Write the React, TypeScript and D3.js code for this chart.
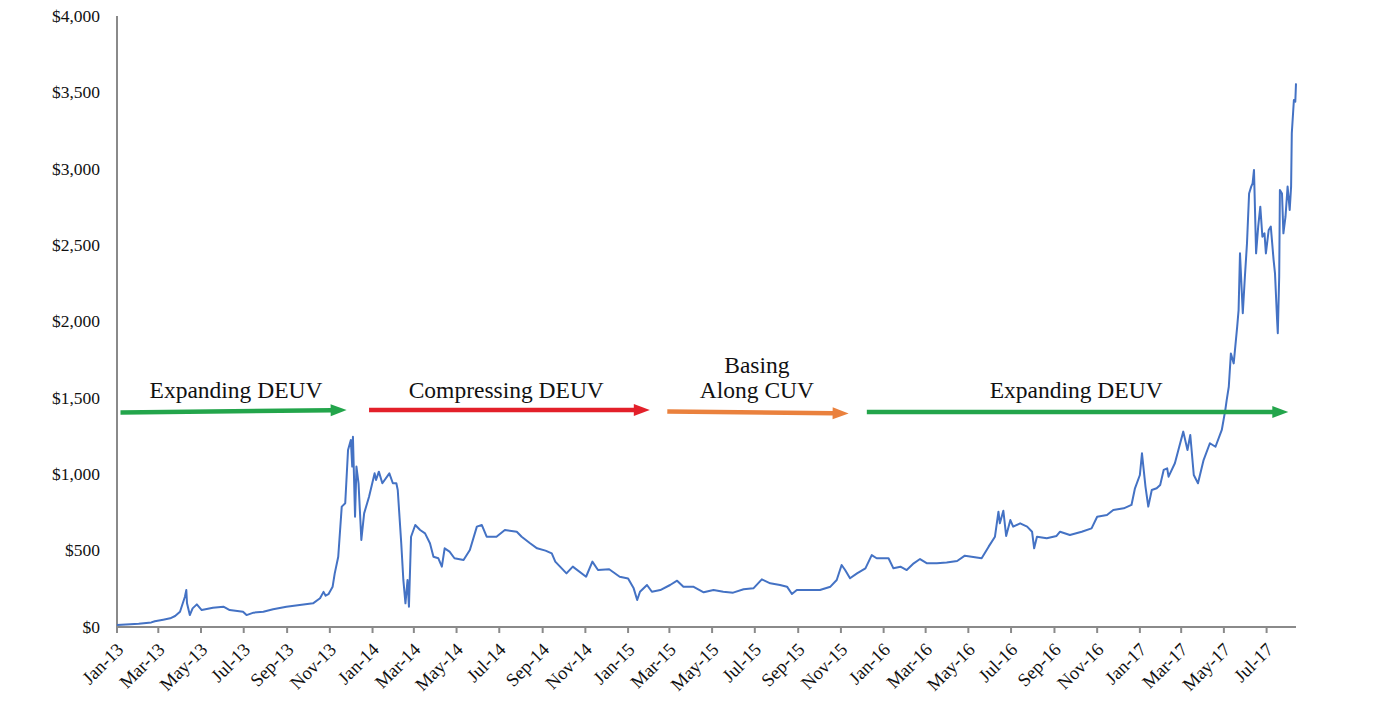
import * as d3 from 'd3';

// price readings (USD)
const priceDates = [
	'2013-01-01', '2013-01-20', '2013-02-01', '2013-02-19', '2013-02-24', '2013-03-08', '2013-03-18', '2013-03-25',
	'2013-04-01', '2013-04-08', '2013-04-10', '2013-04-11', '2013-04-15', '2013-04-19', '2013-04-25', '2013-05-02',
	'2013-05-18', '2013-06-02', '2013-06-11', '2013-06-30', '2013-07-05', '2013-07-15', '2013-07-29', '2013-08-12',
	'2013-08-31', '2013-09-19', '2013-10-08', '2013-10-18', '2013-10-23', '2013-10-26', '2013-10-30', '2013-11-05',
	'2013-11-08', '2013-11-13', '2013-11-18', '2013-11-23', '2013-11-27', '2013-12-01', '2013-12-03', '2013-12-04',
	'2013-12-07', '2013-12-09', '2013-12-12', '2013-12-16', '2013-12-20', '2013-12-27', '2014-01-04', '2014-01-06',
	'2014-01-10', '2014-01-15', '2014-01-25', '2014-01-30', '2014-02-04', '2014-02-06', '2014-02-11', '2014-02-14',
	'2014-02-17', '2014-02-20', '2014-02-22', '2014-02-25', '2014-03-03', '2014-03-10', '2014-03-17', '2014-03-24',
	'2014-03-29', '2014-04-05', '2014-04-10', '2014-04-14', '2014-04-21', '2014-04-28', '2014-05-11', '2014-05-20',
	'2014-05-30', '2014-06-06', '2014-06-13', '2014-06-27', '2014-07-09', '2014-07-26', '2014-08-02', '2014-08-14',
	'2014-08-24', '2014-09-05', '2014-09-14', '2014-09-19', '2014-10-05', '2014-10-14', '2014-11-02', '2014-11-11',
	'2014-11-19', '2014-12-05', '2014-12-20', '2015-01-01', '2015-01-09', '2015-01-14', '2015-01-18', '2015-01-28',
	'2015-02-04', '2015-02-16', '2015-03-02', '2015-03-12', '2015-03-21', '2015-04-04', '2015-04-19', '2015-05-03',
	'2015-05-17', '2015-05-31', '2015-06-15', '2015-06-29', '2015-07-11', '2015-07-23', '2015-08-06', '2015-08-16',
	'2015-08-23', '2015-08-30', '2015-09-13', '2015-10-02', '2015-10-17', '2015-10-26', '2015-11-02', '2015-11-07',
	'2015-11-14', '2015-11-24', '2015-12-06', '2015-12-15', '2015-12-22', '2016-01-08', '2016-01-15', '2016-01-25',
	'2016-02-03', '2016-02-13', '2016-02-22', '2016-03-03', '2016-03-17', '2016-03-31', '2016-04-15', '2016-04-26',
	'2016-05-20', '2016-05-30', '2016-06-08', '2016-06-13', '2016-06-15', '2016-06-20', '2016-06-24', '2016-06-30',
	'2016-07-04', '2016-07-14', '2016-07-24', '2016-07-31', '2016-08-03', '2016-08-07', '2016-08-21', '2016-09-04',
	'2016-09-09', '2016-09-23', '2016-10-10', '2016-10-24', '2016-11-01', '2016-11-15', '2016-11-24', '2016-12-09',
	'2016-12-20', '2016-12-25', '2017-01-01', '2017-01-04', '2017-01-09', '2017-01-13', '2017-01-18', '2017-01-25',
	'2017-01-30', '2017-02-04', '2017-02-09', '2017-02-11', '2017-02-20', '2017-02-25', '2017-03-04', '2017-03-10',
	'2017-03-14', '2017-03-19', '2017-03-25', '2017-04-02', '2017-04-11', '2017-04-19', '2017-04-28', '2017-05-03',
	'2017-05-05', '2017-05-08', '2017-05-11', '2017-05-15', '2017-05-20', '2017-05-22', '2017-05-24', '2017-05-28',
	'2017-05-31', '2017-06-03', '2017-06-06', '2017-06-09', '2017-06-11', '2017-06-13', '2017-06-16', '2017-06-19',
	'2017-06-22', '2017-06-25', '2017-06-28', '2017-06-30', '2017-07-04', '2017-07-07', '2017-07-11', '2017-07-13',
	'2017-07-16', '2017-07-17', '2017-07-19', '2017-07-20', '2017-07-23', '2017-07-25', '2017-07-28', '2017-07-31',
	'2017-08-03', '2017-08-05', '2017-08-06', '2017-08-09', '2017-08-11', '2017-08-12',
];

const priceValues = [
	13, 18, 21, 30, 38, 48, 57, 72,
	100, 198, 242, 155, 78, 122, 148, 111,
	126, 133, 111, 100, 78, 94, 100, 116,
	133, 144, 155, 188, 230, 205, 215, 264,
	351, 460, 788, 810, 1159, 1224, 1050, 1246,
	722, 1050, 941, 570, 744, 853, 1006, 962,
	1017, 941, 1006, 941, 941, 897, 548, 308,
	155, 308, 133, 591, 668, 635, 613, 548,
	460, 450, 395, 515, 493, 450, 439, 504,
	657, 668, 591, 591, 635, 624, 591, 548,
	515, 500, 482, 428, 351, 395, 329, 428,
	373, 378, 329, 318, 253, 177, 231, 275,
	231, 242, 275, 303, 264, 264, 227, 242,
	231, 225, 247, 253, 312, 286, 275, 264,
	216, 242, 242, 242, 264, 308, 406, 373,
	319, 351, 384, 471, 450, 450, 384, 395,
	373, 417, 445, 417, 417, 423, 432, 467,
	450, 526, 591, 755, 679, 761, 596, 700,
	657, 679, 657, 624, 515, 591, 581, 596,
	624, 602, 624, 646, 722, 733, 766, 777,
	799, 908, 995, 1137, 919, 788, 897, 908,
	930, 1028, 1039, 984, 1072, 1159, 1279, 1159,
	1257, 995, 941, 1093, 1203, 1180, 1290, 1420,
	1486, 1573, 1791, 1726, 1966, 2075, 2446, 2054,
	2293, 2512, 2838, 2883, 2905, 2992, 2446, 2621,
	2752, 2555, 2577, 2446, 2599, 2621, 2403, 2315,
	2010, 1923, 2293, 2861, 2838, 2577, 2686, 2883,
	2730, 2883, 3232, 3450, 3439, 3559,
];

const yTicks = [0, 500, 1000, 1500, 2000, 2500, 3000, 3500, 4000];

// phase arrows drawn across the chart
const phaseStarts = ['2013-01-06', '2013-12-27', '2015-02-26', '2015-12-08'];
const phaseEnds = ['2013-11-25', '2015-02-01', '2015-11-12', '2017-08-01'];
const phaseLevelsStart = [1405, 1420, 1410, 1407];
const phaseLevelsEnd = [1420, 1420, 1398, 1407];
const phaseColors = ['#23a54b', '#e3202a', '#ea813d', '#23a54b'];
const phaseLabels = [['Expanding DEUV'], ['Compressing DEUV'], ['Basing', 'Along CUV'], ['Expanding DEUV']];
const phaseLabelDates = ['2013-06-20', '2014-07-11', '2015-07-04', '2016-10-02'];

const width = 1400;
const height = 710;
const margin = {top: 16, right: 104, bottom: 83, left: 117};
const font = '"Liberation Serif", "Times New Roman", serif';

const parse = d3.timeParse('%Y-%m-%d');

export default function App() {
	const data = priceDates.map((d, i) => ({date: parse(d) as Date, value: priceValues[i]}));

	const x = d3.scaleTime()
		.domain([parse('2013-01-01') as Date, parse('2017-08-12') as Date])
		.range([margin.left, width - margin.right]);

	const y = d3.scaleLinear()
		.domain([0, 4000])
		.range([height - margin.bottom, margin.top]);

	const line = d3.line<{date: Date, value: number}>()
		.x(d => x(d.date))
		.y(d => y(d.value));

	const xTicks = x.ticks(d3.timeMonth.every(2) as d3.TimeInterval);
	const fmtX = d3.timeFormat('%b-%y');
	const fmtY = d3.format('$,');
	const y0 = y(0);

	return (
		<svg width={width} height={height} style={{position: 'absolute', left: 0, top: 0, background: '#fff'}}
			fontFamily={font}>
			{/* y axis */}
			<line x1={margin.left} x2={margin.left} y1={y(4000)} y2={y0} stroke="#8a8a8a" strokeWidth={2} />
			{yTicks.map(t => (
				<text key={t} x={100} y={y(t)} dy="0.33em" textAnchor="end" fontSize={17.5} fill="#111">
					{fmtY(t)}
				</text>
			))}

			{/* x axis */}
			<line x1={margin.left - 1} x2={width - margin.right} y1={y0} y2={y0} stroke="#8a8a8a" strokeWidth={2} />
			{xTicks.map(t => (
				<g key={+t}>
					<line x1={x(t)} x2={x(t)} y1={y0} y2={y0 + 6} stroke="#8a8a8a" strokeWidth={2} />
					<text transform={`translate(${x(t) + 3},${y0 + 19}) rotate(-45)`} dy="0.35em"
						textAnchor="end" fontSize={18.5} fill="#111">
						{fmtX(t)}
					</text>
				</g>
			))}

			{/* price line */}
			<path d={line(data) ?? ''} fill="none" stroke="#4472c4" strokeWidth={2} strokeLinejoin="round" />

			{/* phase arrows */}
			{phaseStarts.map((s, i) => {
				const x1 = x(parse(s) as Date);
				const y1 = y(phaseLevelsStart[i]);
				const x2 = x(parse(phaseEnds[i]) as Date);
				const y2 = y(phaseLevelsEnd[i]);
				const ang = Math.atan2(y2 - y1, x2 - x1);
				const head = 16;
				const half = 6;
				const bx = x2 - head * Math.cos(ang);
				const by = y2 - head * Math.sin(ang);
				const px = -Math.sin(ang) * half;
				const py = Math.cos(ang) * half;
				return (
					<g key={s}>
						<line x1={x1} y1={y1} x2={bx + Math.cos(ang)} y2={by + Math.sin(ang)}
							stroke={phaseColors[i]} strokeWidth={4.5} />
						<path d={`M${x2},${y2}L${bx + px},${by + py}L${bx - px},${by - py}Z`} fill={phaseColors[i]} />
					</g>
				);
			})}

			{/* phase labels */}
			{phaseLabels.map((lines, i) => (
				<text key={i} x={x(parse(phaseLabelDates[i]) as Date)} textAnchor="middle" fontSize={23.5} fill="#111">
					{lines.map((l, j) => (
						<tspan key={j} x={x(parse(phaseLabelDates[i]) as Date)} y={398 - (lines.length - 1 - j) * 25}>
							{l}
						</tspan>
					))}
				</text>
			))}
		</svg>
	);
}
